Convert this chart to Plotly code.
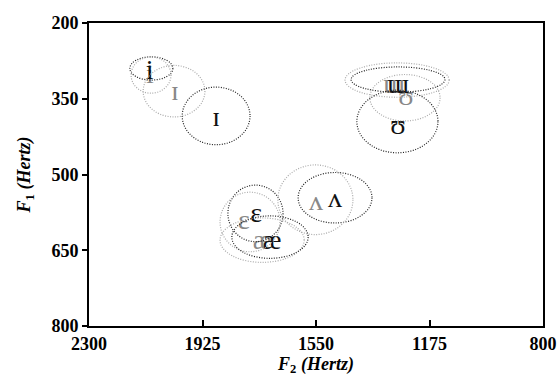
import plotly.graph_objects as go

# Vowel ellipses: label, colour group, centre F2, centre F1, radius F2, radius F1
vowels = ["i", "i", "ɪ", "ɪ", "ɯ", "ɯ", "ʊ", "ʊ", "ɛ", "ɛ", "æ", "æ", "ʌ", "ʌ"]
groups = ["black", "gray", "gray", "black", "gray", "black", "gray", "black",
          "black", "gray", "gray", "black", "black", "gray"]
f2_center = [2094, 2095, 2019, 1880, 1282, 1279, 1256, 1281, 1750, 1768, 1728, 1702, 1487, 1552]
f1_center = [290, 303, 335, 384, 313, 312, 348, 395, 577, 594, 630, 624, 546, 550]
f2_radius = [71, 66, 102, 112, 172, 155, 116, 134, 91, 99, 139, 126, 122, 124]
f1_radius = [23, 36, 51, 57, 34, 25, 46, 62, 56, 59, 44, 42, 50, 69]

# Label positions
label_f2 = [2100, 2099, 2016, 1880, 1292, 1279, 1253, 1279, 1748, 1788, 1728, 1695, 1487, 1550]
label_f1 = [297, 305, 339, 390, 325, 325, 348, 406, 580, 594, 634, 634, 550, 556]

x_ticks = [2300, 1925, 1550, 1175, 800]
y_ticks = [200, 350, 500, 650, 800]

line_col = {"black": "#222222", "gray": "#aaaaaa"}
text_col = {"black": "#111111", "gray": "#888888"}
serif = "Liberation Serif, DejaVu Serif, serif"

fig = go.Figure()

shapes = []
for i in range(len(vowels)):
    shapes.append(dict(
        type="circle", xref="x", yref="y",
        x0=f2_center[i] - f2_radius[i], x1=f2_center[i] + f2_radius[i],
        y0=f1_center[i] - f1_radius[i], y1=f1_center[i] + f1_radius[i],
        line=dict(color=line_col[groups[i]], width=1.2, dash="1px,1.5px"),
    ))

# draw gray labels first, black on top
order = [i for i in range(len(vowels)) if groups[i] == "gray"] + \
        [i for i in range(len(vowels)) if groups[i] == "black"]
for i in order:
    fig.add_trace(go.Scatter(
        x=[label_f2[i]], y=[label_f1[i]], mode="text", text=[vowels[i]],
        textfont=dict(family=serif, size=28, color=text_col[groups[i]]),
        textposition="middle center", showlegend=False, hoverinfo="skip",
    ))

axis_font = dict(family=serif, size=18, color="black", weight="bold")

fig.update_layout(
    width=559, height=378,
    margin=dict(l=89, r=16, t=23, b=52),
    paper_bgcolor="white", plot_bgcolor="white",
    shapes=shapes,
    showlegend=False,
    xaxis=dict(
        range=[2300, 800], tickvals=x_ticks, ticktext=[str(v) for v in x_ticks],
        ticks="inside", ticklen=6, tickwidth=2, tickcolor="black",
        showline=True, linewidth=2, linecolor="black", mirror=True,
        showgrid=False, zeroline=False, tickfont=axis_font, automargin=False,
        title=dict(text="<i>F</i><sub>2</sub><i> (Hertz)</i>",
                   font=dict(family=serif, size=18, color="black", weight="bold"),
                   standoff=0),
    ),
    yaxis=dict(
        range=[800, 200], tickvals=y_ticks, ticktext=[str(v) for v in y_ticks],
        ticks="outside", ticklen=5, tickwidth=2, tickcolor="black",
        showline=True, linewidth=2, linecolor="black", mirror=True,
        showgrid=False, zeroline=False, tickfont=axis_font, automargin=False,
        title=dict(text="<i>F</i><sub>1</sub><i> (Hertz)</i>",
                   font=dict(family=serif, size=18, color="black", weight="bold"),
                   standoff=16),
    ),
)

fig.write_html(
    "out.html",
    config={"displayModeBar": False},
    post_script="document.body.style.margin='0';document.body.style.overflow='hidden';",
)
